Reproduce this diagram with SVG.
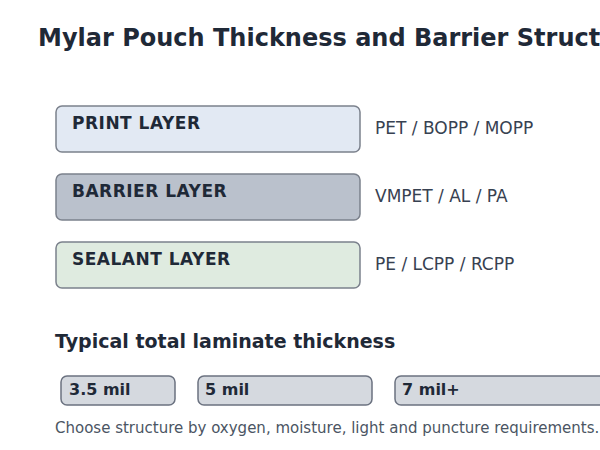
<svg xmlns="http://www.w3.org/2000/svg" width="600" height="450" viewBox="0 0 600 450">
<style>
text{font-family:"DejaVu Sans","Noto Sans",sans-serif}
.title{font-size:24px;font-weight:bold;fill:#1f2937}
.layer{stroke:#7b818c;stroke-width:1.5}
.lab{font-size:17px;font-weight:bold;fill:#1f2937;letter-spacing:0.5px}
.mat{font-size:17px;fill:#374151}
.sub{font-size:19px;font-weight:bold;fill:#1f2937}
.pill{fill:#d5d9df;stroke:#6b7280;stroke-width:1.5}
.pl{font-size:16px;font-weight:bold;fill:#1f2937}
.foot{font-size:15px;fill:#4b5563}
</style>
<rect width="600" height="450" fill="#ffffff"/>
<text class="title" x="38" y="46">Mylar Pouch Thickness and Barrier Structure</text>
<g id="print">
<rect class="layer" x="56" y="106" width="304" height="46" rx="6" fill="#e2e9f3"/>
<text class="lab" x="72" y="129">PRINT LAYER</text>
<text class="mat" x="375" y="134">PET / BOPP / MOPP</text>
</g>
<g id="barrier">
<rect class="layer" x="56" y="174" width="304" height="46" rx="6" fill="#bac1cc"/>
<text class="lab" x="72" y="197">BARRIER LAYER</text>
<text class="mat" x="375" y="202">VMPET / AL / PA</text>
</g>
<g id="sealant">
<rect class="layer" x="56" y="242" width="304" height="46" rx="6" fill="#dfebe0"/>
<text class="lab" x="72" y="265">SEALANT LAYER</text>
<text class="mat" x="375" y="270">PE / LCPP / RCPP</text>
</g>
<text class="sub" x="55" y="348">Typical total laminate thickness</text>
<g id="t35">
<rect class="pill" x="61" y="376" width="114" height="29" rx="6"/>
<text class="pl" x="69" y="395">3.5 mil</text>
</g>
<g id="t5">
<rect class="pill" x="198" y="376" width="174" height="29" rx="6"/>
<text class="pl" x="205" y="395">5 mil</text>
</g>
<g id="t7">
<rect class="pill" x="395" y="376" width="220" height="29" rx="6"/>
<text class="pl" x="402" y="395">7 mil+</text>
</g>
<g id="connectors"></g>
<text class="foot" x="55" y="433">Choose structure by oxygen, moisture, light and puncture requirements.</text>
</svg>
